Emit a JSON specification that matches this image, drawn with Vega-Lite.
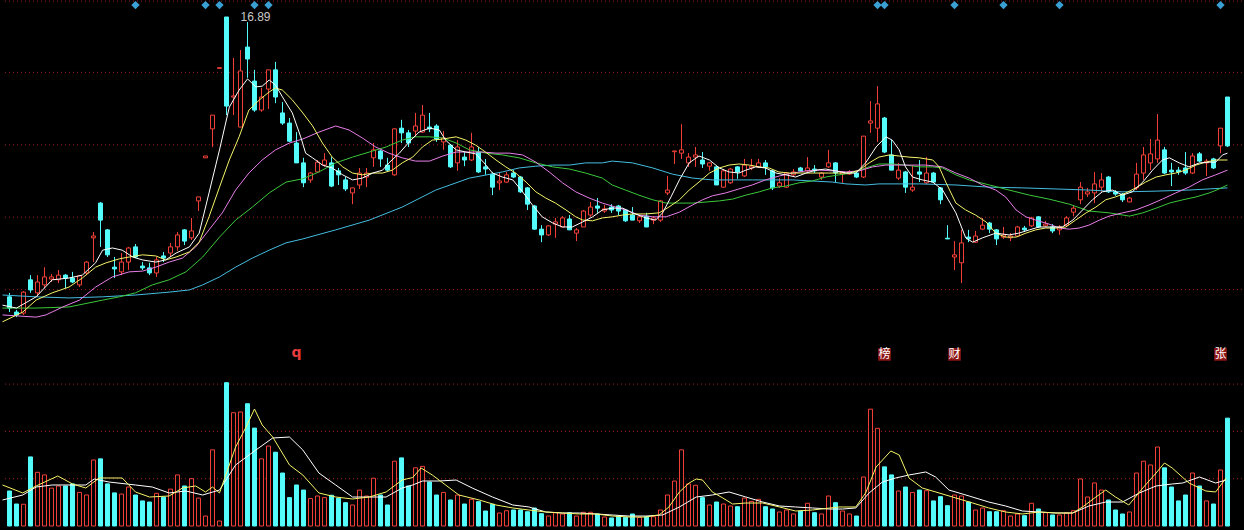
{
"$schema": "https://vega.github.io/schema/vega-lite/v6.json",
"background": "#000000",
"padding": 0,
"spacing": 0,
"config": {"view": {"stroke": null}, "axis": {"disable": true}, "legend": {"disable": true}, "scale": {"continuousPadding": 0}},
"datasets": {
"bars": [
{"k":0,"o":9.16,"h":9.27,"l":8.74,"c":8.85,"v":7.4},
{"k":1,"o":8.74,"h":8.80,"l":8.60,"c":8.66,"v":4.65},
{"k":2,"o":8.71,"h":9.32,"l":8.66,"c":9.29,"v":4.6},
{"k":3,"o":9.63,"h":9.76,"l":9.27,"c":9.35,"v":14.6},
{"k":4,"o":9.27,"h":9.76,"l":9.16,"c":9.57,"v":11.35},
{"k":5,"o":9.49,"h":9.98,"l":9.40,"c":9.71,"v":10.8},
{"k":6,"o":9.65,"h":9.79,"l":9.57,"c":9.71,"v":8.0},
{"k":7,"o":9.63,"h":9.90,"l":9.54,"c":9.76,"v":8.46},
{"k":8,"o":9.76,"h":9.79,"l":9.40,"c":9.68,"v":8.46},
{"k":9,"o":9.68,"h":9.85,"l":9.54,"c":9.57,"v":8.9},
{"k":10,"o":9.49,"h":9.76,"l":9.43,"c":9.74,"v":7.1},
{"k":11,"o":9.82,"h":10.15,"l":9.76,"c":10.12,"v":6.55},
{"k":12,"o":10.79,"h":10.95,"l":10.12,"c":10.84,"v":13.95},
{"k":13,"o":11.75,"h":11.78,"l":10.54,"c":11.28,"v":14.2},
{"k":14,"o":11.01,"h":11.03,"l":10.26,"c":10.32,"v":8.9},
{"k":15,"o":9.98,"h":10.26,"l":9.68,"c":9.93,"v":7.0},
{"k":16,"o":9.85,"h":10.37,"l":9.76,"c":10.12,"v":6.76},
{"k":17,"o":10.12,"h":10.54,"l":9.90,"c":10.51,"v":8.24},
{"k":18,"o":10.54,"h":10.62,"l":10.23,"c":10.26,"v":6.55},
{"k":19,"o":10.01,"h":10.12,"l":9.90,"c":9.96,"v":5.3},
{"k":20,"o":9.96,"h":10.10,"l":9.76,"c":9.82,"v":5.07},
{"k":21,"o":9.82,"h":10.26,"l":9.71,"c":10.18,"v":6.9},
{"k":22,"o":10.29,"h":10.40,"l":10.12,"c":10.23,"v":6.1},
{"k":23,"o":10.37,"h":10.65,"l":10.26,"c":10.54,"v":7.8},
{"k":24,"o":10.54,"h":10.95,"l":10.43,"c":10.87,"v":10.8},
{"k":25,"o":11.01,"h":11.03,"l":10.59,"c":10.70,"v":8.46},
{"k":26,"o":10.79,"h":11.34,"l":10.73,"c":10.98,"v":10.0},
{"k":27,"o":11.81,"h":11.92,"l":11.53,"c":11.92,"v":5.9},
{"k":28,"o":13.00,"h":13.05,"l":13.00,"c":13.05,"v":2.1},
{"k":29,"o":13.80,"h":14.18,"l":13.30,"c":14.18,"v":16.1},
{"k":30,"o":15.47,"h":15.49,"l":15.47,"c":15.49,"v":1.06},
{"k":31,"o":16.89,"h":16.89,"l":14.18,"c":14.43,"v":30.3},
{"k":32,"o":14.68,"h":15.76,"l":14.18,"c":14.71,"v":23.95},
{"k":33,"o":13.85,"h":15.98,"l":13.85,"c":15.40,"v":24.1},
{"k":34,"o":16.06,"h":16.75,"l":15.21,"c":15.73,"v":25.85},
{"k":35,"o":15.12,"h":15.43,"l":14.27,"c":14.32,"v":20.7},
{"k":36,"o":14.32,"h":14.93,"l":14.27,"c":14.68,"v":14.2},
{"k":37,"o":14.90,"h":15.43,"l":14.35,"c":15.43,"v":16.9},
{"k":38,"o":15.43,"h":15.65,"l":14.51,"c":14.68,"v":15.6},
{"k":39,"o":14.24,"h":14.54,"l":13.91,"c":13.96,"v":11.2},
{"k":40,"o":13.96,"h":14.10,"l":13.44,"c":13.46,"v":6.0},
{"k":41,"o":13.41,"h":13.71,"l":12.86,"c":12.86,"v":8.67},
{"k":42,"o":12.86,"h":13.00,"l":12.19,"c":12.31,"v":7.6},
{"k":43,"o":12.39,"h":12.61,"l":12.31,"c":12.58,"v":5.8},
{"k":44,"o":12.61,"h":12.94,"l":12.58,"c":12.88,"v":6.34},
{"k":45,"o":12.80,"h":13.13,"l":12.75,"c":12.94,"v":6.0},
{"k":46,"o":12.86,"h":13.02,"l":12.19,"c":12.22,"v":6.5},
{"k":47,"o":12.64,"h":12.72,"l":12.25,"c":12.53,"v":5.86},
{"k":48,"o":12.39,"h":12.47,"l":12.08,"c":12.14,"v":4.93},
{"k":49,"o":12.03,"h":12.17,"l":11.72,"c":12.17,"v":4.44},
{"k":50,"o":12.25,"h":12.72,"l":12.14,"c":12.58,"v":7.6},
{"k":51,"o":12.47,"h":12.72,"l":12.19,"c":12.58,"v":6.34},
{"k":52,"o":13.00,"h":13.41,"l":12.75,"c":13.22,"v":10.1},
{"k":53,"o":13.19,"h":13.22,"l":12.75,"c":12.97,"v":6.55},
{"k":54,"o":12.80,"h":13.00,"l":12.61,"c":12.66,"v":4.44},
{"k":55,"o":12.53,"h":13.82,"l":12.50,"c":13.80,"v":13.7},
{"k":56,"o":13.82,"h":14.05,"l":13.41,"c":13.69,"v":14.4},
{"k":57,"o":13.69,"h":13.77,"l":13.30,"c":13.41,"v":8.46},
{"k":58,"o":13.74,"h":14.24,"l":13.58,"c":13.88,"v":12.3},
{"k":59,"o":13.71,"h":14.46,"l":13.69,"c":14.18,"v":12.6},
{"k":60,"o":13.85,"h":14.24,"l":13.71,"c":13.80,"v":9.3},
{"k":61,"o":13.88,"h":13.93,"l":13.44,"c":13.52,"v":6.55},
{"k":62,"o":13.44,"h":13.74,"l":13.22,"c":13.55,"v":7.1},
{"k":63,"o":13.35,"h":13.38,"l":12.72,"c":12.75,"v":5.5},
{"k":64,"o":12.86,"h":13.49,"l":12.64,"c":13.30,"v":6.55},
{"k":65,"o":13.02,"h":13.16,"l":12.77,"c":12.94,"v":4.65},
{"k":66,"o":12.94,"h":13.69,"l":12.91,"c":13.30,"v":5.64},
{"k":67,"o":13.16,"h":13.30,"l":12.58,"c":12.61,"v":5.14},
{"k":68,"o":12.75,"h":12.97,"l":12.53,"c":12.69,"v":3.17},
{"k":69,"o":12.55,"h":12.61,"l":11.97,"c":12.19,"v":4.59},
{"k":70,"o":12.31,"h":12.58,"l":12.11,"c":12.36,"v":2.75},
{"k":71,"o":12.33,"h":12.61,"l":12.31,"c":12.53,"v":3.23},
{"k":72,"o":12.58,"h":12.66,"l":12.44,"c":12.47,"v":3.38},
{"k":73,"o":12.47,"h":12.50,"l":12.03,"c":12.06,"v":3.38},
{"k":74,"o":12.17,"h":12.19,"l":11.56,"c":11.72,"v":3.02},
{"k":75,"o":11.67,"h":11.70,"l":11.01,"c":11.03,"v":3.8},
{"k":76,"o":11.03,"h":11.14,"l":10.67,"c":10.87,"v":2.6},
{"k":77,"o":10.87,"h":11.14,"l":10.84,"c":11.12,"v":2.11},
{"k":78,"o":11.17,"h":11.34,"l":10.79,"c":11.23,"v":2.81},
{"k":79,"o":11.09,"h":11.39,"l":11.09,"c":11.34,"v":2.54},
{"k":80,"o":11.31,"h":11.42,"l":11.01,"c":11.01,"v":2.81},
{"k":81,"o":10.92,"h":11.06,"l":10.70,"c":11.01,"v":2.11},
{"k":82,"o":11.09,"h":11.56,"l":11.09,"c":11.53,"v":2.9},
{"k":83,"o":11.42,"h":11.78,"l":11.37,"c":11.64,"v":2.9},
{"k":84,"o":11.67,"h":11.89,"l":11.48,"c":11.61,"v":2.54},
{"k":85,"o":11.53,"h":11.70,"l":11.48,"c":11.59,"v":1.9},
{"k":86,"o":11.64,"h":11.72,"l":11.48,"c":11.56,"v":1.7},
{"k":87,"o":11.67,"h":11.70,"l":11.42,"c":11.53,"v":2.11},
{"k":88,"o":11.56,"h":11.59,"l":11.23,"c":11.26,"v":1.83},
{"k":89,"o":11.42,"h":11.64,"l":11.28,"c":11.28,"v":2.54},
{"k":90,"o":11.26,"h":11.42,"l":11.20,"c":11.37,"v":1.83},
{"k":91,"o":11.39,"h":11.48,"l":11.09,"c":11.09,"v":1.97},
{"k":92,"o":11.28,"h":11.39,"l":11.17,"c":11.34,"v":1.97},
{"k":93,"o":11.28,"h":11.84,"l":11.23,"c":11.81,"v":3.38},
{"k":94,"o":12.03,"h":12.50,"l":11.97,"c":12.11,"v":6.55},
{"k":95,"o":13.17,"h":13.19,"l":12.83,"c":13.19,"v":9.5},
{"k":96,"o":13.13,"h":13.93,"l":12.97,"c":13.22,"v":16.1},
{"k":97,"o":12.86,"h":13.13,"l":12.75,"c":13.02,"v":8.9},
{"k":98,"o":13.02,"h":13.30,"l":12.75,"c":13.08,"v":8.6},
{"k":99,"o":12.94,"h":13.16,"l":12.72,"c":12.83,"v":6.0},
{"k":100,"o":12.77,"h":12.88,"l":12.64,"c":12.86,"v":4.44},
{"k":101,"o":12.75,"h":12.77,"l":12.25,"c":12.25,"v":5.07},
{"k":102,"o":12.19,"h":12.69,"l":12.17,"c":12.64,"v":4.65},
{"k":103,"o":12.31,"h":12.72,"l":12.28,"c":12.69,"v":4.23},
{"k":104,"o":12.75,"h":12.77,"l":12.42,"c":12.61,"v":4.08},
{"k":105,"o":12.50,"h":12.97,"l":12.47,"c":12.80,"v":5.9},
{"k":106,"o":12.72,"h":12.97,"l":12.66,"c":12.77,"v":5.2},
{"k":107,"o":12.75,"h":12.97,"l":12.72,"c":12.86,"v":5.64},
{"k":108,"o":12.86,"h":12.94,"l":12.53,"c":12.75,"v":4.08},
{"k":109,"o":12.64,"h":12.66,"l":12.11,"c":12.17,"v":3.6},
{"k":110,"o":12.22,"h":12.44,"l":12.17,"c":12.31,"v":2.96},
{"k":111,"o":12.19,"h":12.61,"l":12.17,"c":12.58,"v":3.38},
{"k":112,"o":12.53,"h":12.69,"l":12.50,"c":12.61,"v":2.54},
{"k":113,"o":12.72,"h":12.75,"l":12.61,"c":12.64,"v":3.17},
{"k":114,"o":12.64,"h":13.02,"l":12.61,"c":12.72,"v":4.8},
{"k":115,"o":12.69,"h":12.80,"l":12.58,"c":12.64,"v":2.81},
{"k":116,"o":12.47,"h":12.61,"l":12.39,"c":12.58,"v":2.54},
{"k":117,"o":12.75,"h":13.22,"l":12.72,"c":12.86,"v":6.34},
{"k":118,"o":12.86,"h":12.88,"l":12.33,"c":12.58,"v":4.93},
{"k":119,"o":12.55,"h":12.61,"l":12.31,"c":12.61,"v":3.17},
{"k":120,"o":12.55,"h":12.66,"l":12.53,"c":12.61,"v":2.54},
{"k":121,"o":12.58,"h":12.61,"l":12.44,"c":12.47,"v":2.11},
{"k":122,"o":12.47,"h":13.60,"l":12.44,"c":13.60,"v":10.36},
{"k":123,"o":13.96,"h":14.57,"l":13.69,"c":14.02,"v":24.7},
{"k":124,"o":13.82,"h":14.98,"l":13.44,"c":14.49,"v":20.65},
{"k":125,"o":14.10,"h":14.13,"l":13.13,"c":13.16,"v":12.5},
{"k":126,"o":13.08,"h":13.49,"l":12.66,"c":12.66,"v":10.8},
{"k":127,"o":12.44,"h":12.86,"l":12.39,"c":12.66,"v":7.4},
{"k":128,"o":12.61,"h":12.64,"l":12.03,"c":12.19,"v":8.24},
{"k":129,"o":12.11,"h":12.80,"l":12.06,"c":12.19,"v":7.1},
{"k":130,"o":12.61,"h":12.94,"l":12.33,"c":12.55,"v":7.6},
{"k":131,"o":12.31,"h":13.02,"l":12.28,"c":12.58,"v":7.46},
{"k":132,"o":12.58,"h":12.61,"l":12.31,"c":12.33,"v":5.3},
{"k":133,"o":12.17,"h":12.19,"l":11.72,"c":11.84,"v":6.2},
{"k":134,"o":10.78,"h":11.14,"l":10.76,"c":10.76,"v":4.3},
{"k":135,"o":10.26,"h":10.70,"l":9.90,"c":10.32,"v":6.55},
{"k":136,"o":10.10,"h":11.01,"l":9.54,"c":10.65,"v":6.34},
{"k":137,"o":10.81,"h":11.01,"l":10.67,"c":10.76,"v":5.07},
{"k":138,"o":10.67,"h":10.98,"l":10.65,"c":10.84,"v":3.38},
{"k":139,"o":11.03,"h":11.34,"l":11.01,"c":11.14,"v":3.8},
{"k":140,"o":11.20,"h":11.23,"l":10.92,"c":11.03,"v":3.02},
{"k":141,"o":11.01,"h":11.03,"l":10.59,"c":10.76,"v":3.02},
{"k":142,"o":10.81,"h":11.09,"l":10.76,"c":10.87,"v":3.23},
{"k":143,"o":10.79,"h":10.92,"l":10.70,"c":10.84,"v":2.11},
{"k":144,"o":10.84,"h":11.12,"l":10.81,"c":11.09,"v":2.54},
{"k":145,"o":11.06,"h":11.12,"l":10.95,"c":11.01,"v":2.18},
{"k":146,"o":11.12,"h":11.37,"l":11.09,"c":11.34,"v":4.8},
{"k":147,"o":11.37,"h":11.39,"l":11.06,"c":11.09,"v":3.6},
{"k":148,"o":11.12,"h":11.26,"l":11.09,"c":11.17,"v":2.81},
{"k":149,"o":11.09,"h":11.17,"l":10.92,"c":10.98,"v":2.33},
{"k":150,"o":11.01,"h":11.14,"l":10.87,"c":11.09,"v":2.33},
{"k":151,"o":11.14,"h":11.39,"l":11.12,"c":11.34,"v":2.75},
{"k":152,"o":11.50,"h":11.67,"l":11.39,"c":11.61,"v":3.23},
{"k":153,"o":11.84,"h":12.33,"l":11.72,"c":12.19,"v":9.94},
{"k":154,"o":12.00,"h":12.17,"l":11.92,"c":12.06,"v":6.13},
{"k":155,"o":12.03,"h":12.61,"l":11.75,"c":12.28,"v":9.1},
{"k":156,"o":12.19,"h":12.58,"l":12.06,"c":12.39,"v":7.6},
{"k":157,"o":12.47,"h":12.50,"l":12.03,"c":12.06,"v":5.5},
{"k":158,"o":12.06,"h":12.11,"l":11.95,"c":12.00,"v":3.38},
{"k":159,"o":12.00,"h":12.03,"l":11.78,"c":11.84,"v":2.54},
{"k":160,"o":11.78,"h":11.92,"l":11.78,"c":11.89,"v":2.96},
{"k":161,"o":12.17,"h":12.86,"l":12.11,"c":12.55,"v":11.2},
{"k":162,"o":12.58,"h":13.30,"l":12.39,"c":13.08,"v":13.7},
{"k":163,"o":12.86,"h":13.52,"l":12.66,"c":13.11,"v":12.9},
{"k":164,"o":12.97,"h":14.21,"l":12.86,"c":13.49,"v":16.7},
{"k":165,"o":13.22,"h":13.30,"l":12.55,"c":12.58,"v":12.3},
{"k":166,"o":12.66,"h":12.86,"l":12.22,"c":12.61,"v":8.24},
{"k":167,"o":12.66,"h":12.75,"l":12.53,"c":12.61,"v":5.3},
{"k":168,"o":12.72,"h":13.16,"l":12.53,"c":12.58,"v":6.55},
{"k":169,"o":12.58,"h":13.13,"l":12.55,"c":13.05,"v":11.2},
{"k":170,"o":13.11,"h":13.16,"l":12.88,"c":12.91,"v":8.46},
{"k":171,"o":12.86,"h":12.97,"l":12.50,"c":12.91,"v":5.3},
{"k":172,"o":12.97,"h":13.00,"l":12.69,"c":12.72,"v":4.65},
{"k":173,"o":13.33,"h":13.82,"l":13.13,"c":13.82,"v":11.84},
{"k":174,"o":14.68,"h":14.68,"l":13.30,"c":13.33,"v":22.8}
],
"ma5": [
{"k":-1,"y":8.93},{"k":1,"y":8.85},{"k":3.8,"y":9.16},{"k":6.1,"y":9.63},{"k":8.5,"y":9.68},{"k":10.4,"y":9.76},{"k":12.3,"y":10.10},{"k":13.3,"y":10.45},{"k":14.7,"y":10.51},{"k":16.1,"y":10.45},{"k":17.6,"y":10.26},{"k":19,"y":10.18},{"k":20.9,"y":10.12},{"k":22.3,"y":10.18},{"k":23.8,"y":10.37},{"k":25.7,"y":10.54},{"k":27.1,"y":10.92},{"k":28.5,"y":12.03},{"k":30,"y":13.22},{"k":31.4,"y":14.40},{"k":32.8,"y":14.87},{"k":34,"y":15.18},{"k":35.2,"y":14.96},{"k":36.1,"y":14.98},{"k":37.1,"y":15.15},{"k":38,"y":15.01},{"k":39,"y":14.68},{"k":40.4,"y":14.24},{"k":41.6,"y":13.58},{"k":42.3,"y":13.13},{"k":43.3,"y":13.00},{"k":44.7,"y":12.80},{"k":46.1,"y":12.72},{"k":47.6,"y":12.53},{"k":49,"y":12.39},{"k":50.4,"y":12.44},{"k":51.9,"y":12.58},{"k":53.3,"y":12.66},{"k":54.2,"y":12.86},{"k":55.7,"y":13.13},{"k":57.1,"y":13.44},{"k":58.5,"y":13.71},{"k":60,"y":13.82},{"k":61.4,"y":13.77},{"k":62.3,"y":13.49},{"k":63.8,"y":13.22},{"k":65.2,"y":13.16},{"k":66.6,"y":13.11},{"k":67.8,"y":12.86},{"k":69,"y":12.58},{"k":70.4,"y":12.47},{"k":71.9,"y":12.39},{"k":73.3,"y":12.06},{"k":74.7,"y":11.70},{"k":76.1,"y":11.37},{"k":77.6,"y":11.20},{"k":79,"y":11.09},{"k":80.4,"y":11.09},{"k":81.9,"y":11.23},{"k":83.3,"y":11.37},{"k":84.7,"y":11.56},{"k":86.1,"y":11.61},{"k":87.6,"y":11.61},{"k":89,"y":11.48},{"k":90.9,"y":11.34},{"k":92.3,"y":11.28},{"k":93.3,"y":11.48},{"k":94.5,"y":11.92},{"k":95.7,"y":12.39},{"k":97.1,"y":12.86},{"k":98.5,"y":13.05},{"k":100,"y":12.94},{"k":101.4,"y":12.72},{"k":102.8,"y":12.61},{"k":104.2,"y":12.58},{"k":105.2,"y":12.66},{"k":106.6,"y":12.75},{"k":108,"y":12.72},{"k":109.5,"y":12.58},{"k":110.9,"y":12.53},{"k":112.3,"y":12.47},{"k":113.8,"y":12.58},{"k":115.2,"y":12.66},{"k":116.6,"y":12.69},{"k":118,"y":12.64},{"k":119.5,"y":12.58},{"k":120.9,"y":12.58},{"k":122.3,"y":12.86},{"k":123.8,"y":13.30},{"k":125.2,"y":13.58},{"k":126.1,"y":13.49},{"k":127.1,"y":13.22},{"k":128,"y":12.75},{"k":129,"y":12.47},{"k":130.4,"y":12.39},{"k":131.9,"y":12.33},{"k":133.3,"y":12.11},{"k":135.2,"y":11.48},{"k":136.6,"y":10.79},{"k":137.6,"y":10.67},{"k":139,"y":10.79},{"k":140.9,"y":10.92},{"k":142.8,"y":10.87},{"k":144.2,"y":10.92},{"k":145.7,"y":11.01},{"k":147.1,"y":11.09},{"k":148.5,"y":11.09},{"k":150.4,"y":11.09},{"k":151.9,"y":11.28},{"k":153.3,"y":11.56},{"k":154.7,"y":11.84},{"k":156.1,"y":12.06},{"k":157.6,"y":12.11},{"k":159,"y":11.97},{"k":160.4,"y":12.06},{"k":161.9,"y":12.33},{"k":163.3,"y":12.66},{"k":164.7,"y":12.94},{"k":165.7,"y":13.00},{"k":167.1,"y":12.86},{"k":168.5,"y":12.75},{"k":170,"y":12.86},{"k":171.4,"y":12.88},{"k":172.3,"y":12.88},{"k":173.3,"y":13.08},{"k":174,"y":13.13}
],
"ma10": [
{"k":-1,"y":8.47},{"k":1.9,"y":8.74},{"k":3.8,"y":9.07},{"k":6.1,"y":9.27},{"k":8.5,"y":9.43},{"k":10.4,"y":9.68},{"k":12.3,"y":9.98},{"k":13.8,"y":10.10},{"k":15.7,"y":10.21},{"k":17.1,"y":10.26},{"k":19,"y":10.32},{"k":20.9,"y":10.29},{"k":22.3,"y":10.18},{"k":23.8,"y":10.26},{"k":25.7,"y":10.40},{"k":27.1,"y":10.67},{"k":28.5,"y":11.37},{"k":30,"y":12.19},{"k":31.4,"y":12.94},{"k":32.8,"y":13.58},{"k":34.2,"y":14.32},{"k":35.7,"y":14.60},{"k":37.1,"y":14.82},{"k":38,"y":14.93},{"k":39,"y":14.87},{"k":40.4,"y":14.60},{"k":41.9,"y":14.24},{"k":43.3,"y":13.88},{"k":44.7,"y":13.41},{"k":46.1,"y":13.02},{"k":47.6,"y":12.75},{"k":49,"y":12.58},{"k":50.4,"y":12.53},{"k":51.9,"y":12.58},{"k":53.3,"y":12.58},{"k":54.7,"y":12.66},{"k":56.1,"y":12.86},{"k":57.6,"y":13.02},{"k":59,"y":13.30},{"k":60.4,"y":13.49},{"k":61.9,"y":13.52},{"k":63.8,"y":13.58},{"k":65.2,"y":13.49},{"k":66.6,"y":13.35},{"k":68,"y":13.16},{"k":69.5,"y":12.94},{"k":70.9,"y":12.75},{"k":72.3,"y":12.58},{"k":73.8,"y":12.33},{"k":75.2,"y":12.06},{"k":76.6,"y":11.89},{"k":78,"y":11.75},{"k":79.5,"y":11.56},{"k":80.9,"y":11.37},{"k":81.9,"y":11.28},{"k":83.3,"y":11.26},{"k":84.7,"y":11.34},{"k":86.1,"y":11.37},{"k":87.6,"y":11.42},{"k":89,"y":11.45},{"k":90.9,"y":11.45},{"k":92.8,"y":11.48},{"k":94.2,"y":11.64},{"k":95.7,"y":11.84},{"k":97.1,"y":12.11},{"k":98.5,"y":12.33},{"k":100,"y":12.58},{"k":101.4,"y":12.72},{"k":102.8,"y":12.80},{"k":104.2,"y":12.83},{"k":105.7,"y":12.80},{"k":107.1,"y":12.75},{"k":108.5,"y":12.72},{"k":109.9,"y":12.61},{"k":111.4,"y":12.58},{"k":113,"y":12.58},{"k":115,"y":12.58},{"k":117,"y":12.58},{"k":119,"y":12.58},{"k":120,"y":12.58},{"k":121.4,"y":12.66},{"k":122.8,"y":12.86},{"k":124.2,"y":13.02},{"k":125.7,"y":13.08},{"k":127.1,"y":13.05},{"k":128.5,"y":13.02},{"k":130,"y":13.00},{"k":131.9,"y":12.94},{"k":132.8,"y":12.75},{"k":133.8,"y":12.31},{"k":135.2,"y":11.75},{"k":136.6,"y":11.56},{"k":138,"y":11.42},{"k":139.5,"y":11.23},{"k":140.9,"y":10.92},{"k":142.3,"y":10.81},{"k":143.8,"y":10.81},{"k":145.2,"y":10.92},{"k":146.6,"y":11.01},{"k":148,"y":11.06},{"k":149.5,"y":11.06},{"k":150.9,"y":11.09},{"k":152.3,"y":11.28},{"k":153.8,"y":11.48},{"k":155.2,"y":11.64},{"k":156.6,"y":11.84},{"k":158,"y":11.92},{"k":159.5,"y":12.03},{"k":160.9,"y":12.17},{"k":162.3,"y":12.33},{"k":163.8,"y":12.47},{"k":165.2,"y":12.53},{"k":166.6,"y":12.58},{"k":168,"y":12.66},{"k":169.5,"y":12.80},{"k":170.9,"y":12.88},{"k":172.3,"y":12.94},{"k":174,"y":12.94}
],
"ma20": [
{"k":-1,"y":8.66},{"k":3.8,"y":8.60},{"k":5.2,"y":8.66},{"k":7.6,"y":8.88},{"k":10,"y":9.07},{"k":12.3,"y":9.43},{"k":14.7,"y":9.71},{"k":17.1,"y":9.85},{"k":19,"y":9.87},{"k":20.9,"y":9.98},{"k":22.8,"y":10.12},{"k":24.7,"y":10.23},{"k":26.6,"y":10.54},{"k":28.5,"y":11.01},{"k":30.4,"y":11.48},{"k":32.3,"y":12.11},{"k":34.2,"y":12.58},{"k":36.1,"y":12.94},{"k":38,"y":13.22},{"k":40,"y":13.41},{"k":41.9,"y":13.52},{"k":44.2,"y":13.71},{"k":46.6,"y":13.88},{"k":48.5,"y":13.77},{"k":50.4,"y":13.55},{"k":52.3,"y":13.30},{"k":54.2,"y":13.13},{"k":56.1,"y":13.00},{"k":58,"y":12.91},{"k":60,"y":12.91},{"k":61.9,"y":13.05},{"k":63.8,"y":13.16},{"k":65.7,"y":13.16},{"k":67.6,"y":13.16},{"k":69.5,"y":13.13},{"k":71.4,"y":13.13},{"k":73.3,"y":13.08},{"k":75.2,"y":12.88},{"k":77.1,"y":12.61},{"k":79,"y":12.31},{"k":80.9,"y":12.06},{"k":82.8,"y":11.89},{"k":84.7,"y":11.75},{"k":86.6,"y":11.64},{"k":88,"y":11.56},{"k":89.9,"y":11.42},{"k":91.9,"y":11.37},{"k":93.8,"y":11.37},{"k":95.7,"y":11.50},{"k":97.6,"y":11.70},{"k":99,"y":11.84},{"k":100.4,"y":11.95},{"k":102.3,"y":12.03},{"k":104.2,"y":12.14},{"k":106.1,"y":12.25},{"k":108,"y":12.39},{"k":110,"y":12.50},{"k":111.9,"y":12.58},{"k":113.8,"y":12.64},{"k":115.7,"y":12.66},{"k":117.6,"y":12.64},{"k":119.5,"y":12.61},{"k":121.4,"y":12.64},{"k":123.3,"y":12.75},{"k":125.2,"y":12.80},{"k":127.1,"y":12.80},{"k":129,"y":12.80},{"k":130.9,"y":12.80},{"k":133.3,"y":12.75},{"k":135.2,"y":12.58},{"k":137.1,"y":12.44},{"k":139,"y":12.25},{"k":140.9,"y":12.11},{"k":142.3,"y":11.92},{"k":143.8,"y":11.56},{"k":145.2,"y":11.37},{"k":146.6,"y":11.28},{"k":148.5,"y":11.17},{"k":150,"y":11.06},{"k":151.4,"y":11.03},{"k":152.8,"y":11.06},{"k":154.2,"y":11.14},{"k":155.7,"y":11.28},{"k":157.1,"y":11.39},{"k":159,"y":11.48},{"k":160.9,"y":11.56},{"k":162.8,"y":11.70},{"k":164.7,"y":11.86},{"k":166.6,"y":12.03},{"k":168.5,"y":12.19},{"k":170.4,"y":12.39},{"k":172.3,"y":12.53},{"k":174,"y":12.66}
],
"ma30": [
{"k":-1,"y":8.85},{"k":3.8,"y":8.85},{"k":8.5,"y":8.88},{"k":13.3,"y":9.07},{"k":15.7,"y":9.16},{"k":18,"y":9.27},{"k":20.4,"y":9.49},{"k":22.8,"y":9.63},{"k":25.2,"y":9.85},{"k":27.6,"y":10.26},{"k":30,"y":10.81},{"k":32.3,"y":11.28},{"k":34.7,"y":11.64},{"k":37.1,"y":12.03},{"k":39.5,"y":12.33},{"k":41.9,"y":12.42},{"k":44.2,"y":12.61},{"k":46.6,"y":12.86},{"k":49,"y":13.02},{"k":51.4,"y":13.16},{"k":53.8,"y":13.30},{"k":56.1,"y":13.49},{"k":58,"y":13.58},{"k":60,"y":13.58},{"k":61.9,"y":13.55},{"k":63.8,"y":13.41},{"k":65.7,"y":13.22},{"k":68.1,"y":13.13},{"k":70.4,"y":13.08},{"k":72.8,"y":13.00},{"k":75.2,"y":12.86},{"k":77.6,"y":12.75},{"k":80,"y":12.69},{"k":82.3,"y":12.58},{"k":84.7,"y":12.44},{"k":86.1,"y":12.25},{"k":88,"y":12.11},{"k":89.9,"y":11.97},{"k":91.9,"y":11.84},{"k":93.8,"y":11.75},{"k":95.7,"y":11.75},{"k":97.6,"y":11.75},{"k":99.5,"y":11.78},{"k":101.4,"y":11.81},{"k":103.3,"y":11.86},{"k":105.2,"y":11.97},{"k":107.1,"y":12.06},{"k":109,"y":12.17},{"k":110.9,"y":12.22},{"k":112.8,"y":12.31},{"k":114.7,"y":12.36},{"k":116.6,"y":12.47},{"k":118.5,"y":12.53},{"k":120.4,"y":12.58},{"k":122.3,"y":12.72},{"k":124.2,"y":12.83},{"k":126.1,"y":12.83},{"k":128,"y":12.80},{"k":130,"y":12.75},{"k":131.9,"y":12.75},{"k":133.3,"y":12.72},{"k":135.2,"y":12.53},{"k":137.1,"y":12.39},{"k":140,"y":12.25},{"k":142.8,"y":12.11},{"k":145.7,"y":11.97},{"k":148.5,"y":11.86},{"k":151.4,"y":11.72},{"k":154.2,"y":11.53},{"k":157.1,"y":11.48},{"k":160,"y":11.39},{"k":161.9,"y":11.48},{"k":163.8,"y":11.61},{"k":165.7,"y":11.75},{"k":167.6,"y":11.84},{"k":169.5,"y":11.92},{"k":171.4,"y":12.03},{"k":172.8,"y":12.14},{"k":174,"y":12.25}
],
"ma60": [
{"k":-1,"y":9.21},{"k":3.8,"y":9.16},{"k":8.5,"y":9.13},{"k":13.3,"y":9.16},{"k":18,"y":9.21},{"k":22.8,"y":9.29},{"k":25.7,"y":9.35},{"k":27.6,"y":9.49},{"k":30,"y":9.71},{"k":32.3,"y":9.98},{"k":34.7,"y":10.23},{"k":37.1,"y":10.45},{"k":39.5,"y":10.65},{"k":41.9,"y":10.76},{"k":46.6,"y":11.01},{"k":51.4,"y":11.28},{"k":56.1,"y":11.64},{"k":60.9,"y":12.11},{"k":65.7,"y":12.44},{"k":70.4,"y":12.61},{"k":72.8,"y":12.72},{"k":75.2,"y":12.77},{"k":77.6,"y":12.80},{"k":80,"y":12.80},{"k":82.3,"y":12.86},{"k":84.7,"y":12.86},{"k":86.1,"y":12.91},{"k":89,"y":12.86},{"k":91.9,"y":12.72},{"k":94.7,"y":12.55},{"k":97.6,"y":12.44},{"k":100.4,"y":12.39},{"k":103.3,"y":12.39},{"k":106.1,"y":12.39},{"k":109,"y":12.39},{"k":111.9,"y":12.39},{"k":114.7,"y":12.36},{"k":117.6,"y":12.33},{"k":119.5,"y":12.28},{"k":122.3,"y":12.25},{"k":124.2,"y":12.28},{"k":127.1,"y":12.28},{"k":130,"y":12.28},{"k":135.2,"y":12.25},{"k":139.9,"y":12.19},{"k":144.7,"y":12.17},{"k":149.5,"y":12.14},{"k":154.2,"y":12.11},{"k":159,"y":12.06},{"k":163.8,"y":12.08},{"k":168.5,"y":12.11},{"k":174,"y":12.17}
],
"vma5": [
{"k":-1,"y":8.67},{"k":1.9,"y":6.98},{"k":3.8,"y":8.46},{"k":6.9,"y":10.57},{"k":9,"y":8.88},{"k":10.9,"y":8.03},{"k":12.8,"y":10.15},{"k":16.1,"y":10.15},{"k":18,"y":7.19},{"k":20,"y":6.13},{"k":22.8,"y":6.34},{"k":24.7,"y":8.03},{"k":26.6,"y":8.46},{"k":28,"y":7.19},{"k":29,"y":8.24},{"k":30,"y":6.98},{"k":32.3,"y":16.7},{"k":33.8,"y":20.93},{"k":35,"y":24.73},{"k":36.1,"y":21.35},{"k":37.6,"y":18.81},{"k":40,"y":12.9},{"k":41.9,"y":10.78},{"k":44.2,"y":6.98},{"k":46.6,"y":6.13},{"k":49,"y":5.71},{"k":51.4,"y":6.13},{"k":53.8,"y":7.19},{"k":56.1,"y":9.72},{"k":57.6,"y":10.25},{"k":58.8,"y":12.26},{"k":60.4,"y":10.78},{"k":62.3,"y":8.67},{"k":64.2,"y":6.55},{"k":67.1,"y":5.50},{"k":69.5,"y":4.44},{"k":71.9,"y":3.81},{"k":74.2,"y":3.38},{"k":76.6,"y":2.96},{"k":79,"y":2.75},{"k":81.4,"y":2.54},{"k":83.8,"y":2.54},{"k":86.1,"y":2.11},{"k":88.5,"y":1.90},{"k":90.9,"y":1.90},{"k":92.8,"y":2.33},{"k":94.2,"y":4.02},{"k":95.7,"y":7.19},{"k":97.1,"y":9.09},{"k":98.1,"y":9.94},{"k":99,"y":9.72},{"k":100.4,"y":7.19},{"k":101.9,"y":5.92},{"k":103.3,"y":4.65},{"k":105.2,"y":4.86},{"k":107.6,"y":4.86},{"k":110,"y":4.02},{"k":112.3,"y":3.17},{"k":114.7,"y":3.38},{"k":116.6,"y":3.7},{"k":118.5,"y":4.02},{"k":120.9,"y":4.02},{"k":122.3,"y":6.98},{"k":123.8,"y":12.47},{"k":125.9,"y":15.86},{"k":127.1,"y":15.01},{"k":128.5,"y":10.15},{"k":130.4,"y":8.03},{"k":132.8,"y":6.98},{"k":135.2,"y":5.92},{"k":137.6,"y":4.86},{"k":139.9,"y":3.81},{"k":142.3,"y":2.96},{"k":144.7,"y":2.54},{"k":147.1,"y":2.96},{"k":149.5,"y":2.75},{"k":151.9,"y":2.75},{"k":153.3,"y":4.02},{"k":155.2,"y":6.13},{"k":156.6,"y":7.61},{"k":158,"y":6.13},{"k":159.9,"y":4.44},{"k":161.9,"y":8.03},{"k":163.8,"y":11.2},{"k":165,"y":13.32},{"k":166.1,"y":12.26},{"k":168.5,"y":9.09},{"k":170.9,"y":7.40},{"k":172.3,"y":7.19},{"k":173.8,"y":10.15}
],
"vma10": [
{"k":-1,"y":5.50},{"k":1.9,"y":6.55},{"k":3.8,"y":8.24},{"k":6.1,"y":8.67},{"k":8.5,"y":8.67},{"k":10.9,"y":8.67},{"k":12.1,"y":9.94},{"k":14.2,"y":9.30},{"k":18,"y":8.67},{"k":20.4,"y":8.24},{"k":22.8,"y":6.98},{"k":25.2,"y":7.40},{"k":27.6,"y":6.55},{"k":30,"y":7.61},{"k":32.3,"y":12.90},{"k":35.2,"y":16.07},{"k":37.6,"y":18.60},{"k":40,"y":18.81},{"k":41.9,"y":16.07},{"k":44.2,"y":11.20},{"k":46.6,"y":8.67},{"k":49,"y":6.13},{"k":51.4,"y":6.13},{"k":53.8,"y":6.13},{"k":56.1,"y":8.03},{"k":57.6,"y":8.67},{"k":59,"y":9.51},{"k":61.4,"y":9.51},{"k":63.8,"y":9.72},{"k":66.1,"y":8.03},{"k":69,"y":6.13},{"k":71.9,"y":4.44},{"k":74.2,"y":4.02},{"k":76.6,"y":2.96},{"k":79,"y":2.75},{"k":81.4,"y":2.75},{"k":83.8,"y":2.54},{"k":86.1,"y":2.33},{"k":88.5,"y":2.11},{"k":90.9,"y":2.11},{"k":93.3,"y":2.33},{"k":95.7,"y":4.02},{"k":98.1,"y":6.13},{"k":100.4,"y":6.55},{"k":102.8,"y":7.19},{"k":105.2,"y":6.13},{"k":107.6,"y":5.07},{"k":110,"y":4.23},{"k":112.3,"y":4.02},{"k":114.7,"y":3.81},{"k":117.1,"y":3.59},{"k":119,"y":3.59},{"k":120.9,"y":3.81},{"k":122.8,"y":6.98},{"k":124.7,"y":9.30},{"k":126.6,"y":10.15},{"k":128.5,"y":10.78},{"k":130.9,"y":11.42},{"k":132.3,"y":10.36},{"k":134.2,"y":7.61},{"k":137.1,"y":6.34},{"k":139.9,"y":5.07},{"k":142.3,"y":4.23},{"k":144.7,"y":3.17},{"k":147.1,"y":2.96},{"k":149.5,"y":2.75},{"k":151.9,"y":2.75},{"k":154.2,"y":4.23},{"k":156.6,"y":5.07},{"k":159,"y":5.07},{"k":161.4,"y":6.98},{"k":163.8,"y":8.46},{"k":166.1,"y":8.88},{"k":167.6,"y":9.09},{"k":170,"y":10.36},{"k":172.3,"y":9.09},{"k":173.8,"y":9.72}
],
"pgrid": [{"g":17.33},{"g":15.36},{"g":13.36},{"g":11.36},{"g":9.36}],
"vgrid": [{"g":10},{"g":20},{"g":30}],
"sig": [{"k":18},{"k":28},{"k":30},{"k":35},{"k":37},{"k":124},{"k":125},{"k":135},{"k":142},{"k":150},{"k":173}],
"tags": [{"k":125,"t":"榜"},{"k":135,"t":"财"},{"k":173,"t":"张"}],
"qtag": [{"k":41,"t":"q"}],
"peak": [{"k":31,"h":16.89,"t":"16.89"}]
},
"vconcat": [
{
"width": 1244, "height": 362,
"layer": [
{"data": {"name": "pgrid"}, "mark": {"type": "rule", "color": "#9A1E1E", "strokeDash": [1, 3], "strokeWidth": 1},
 "encoding": {"y": {"field": "g", "type": "quantitative", "scale": {"domain": [7.36, 17.36], "nice": false, "zero": false, "padding": 0}}}},
{"data": {"name": "bars"}, "mark": {"type": "rule", "strokeWidth": 1},
 "encoding": {
  "x": {"field": "k", "type": "quantitative", "scale": {"domain": [-1.0714, 176.643], "nice": false, "zero": false, "padding": 0}},
  "y": {"field": "l", "type": "quantitative", "scale": {"domain": [7.36, 17.36], "nice": false, "zero": false, "padding": 0}},
  "y2": {"field": "h"},
  "color": {"condition": {"test": "datum.c >= datum.o", "value": "#F24038"}, "value": "#54FCFC"}}},
{"data": {"name": "bars"}, "mark": {"type": "bar", "size": 4, "strokeWidth": 1},
 "encoding": {
  "x": {"field": "k", "type": "quantitative", "scale": {"domain": [-1.0714, 176.643], "nice": false, "zero": false, "padding": 0}},
  "y": {"field": "o", "type": "quantitative", "scale": {"domain": [7.36, 17.36], "nice": false, "zero": false, "padding": 0}},
  "y2": {"field": "c"},
  "fill": {"condition": {"test": "datum.c >= datum.o", "value": "#000000"}, "value": "#54FCFC"},
  "stroke": {"condition": {"test": "datum.c >= datum.o", "value": "#F24038"}, "value": "#54FCFC"}}},
{"data": {"name": "ma60"}, "mark": {"type": "line", "color": "#45BDE0", "strokeWidth": 1},
 "encoding": {"x": {"field": "k", "type": "quantitative", "scale": {"domain": [-1.0714, 176.643], "nice": false, "zero": false, "padding": 0}}, "y": {"field": "y", "type": "quantitative", "scale": {"domain": [7.36, 17.36], "nice": false, "zero": false, "padding": 0}}}},
{"data": {"name": "ma30"}, "mark": {"type": "line", "color": "#3CC83C", "strokeWidth": 1},
 "encoding": {"x": {"field": "k", "type": "quantitative", "scale": {"domain": [-1.0714, 176.643], "nice": false, "zero": false, "padding": 0}}, "y": {"field": "y", "type": "quantitative", "scale": {"domain": [7.36, 17.36], "nice": false, "zero": false, "padding": 0}}}},
{"data": {"name": "ma20"}, "mark": {"type": "line", "color": "#E87EE8", "strokeWidth": 1},
 "encoding": {"x": {"field": "k", "type": "quantitative", "scale": {"domain": [-1.0714, 176.643], "nice": false, "zero": false, "padding": 0}}, "y": {"field": "y", "type": "quantitative", "scale": {"domain": [7.36, 17.36], "nice": false, "zero": false, "padding": 0}}}},
{"data": {"name": "ma10"}, "mark": {"type": "line", "color": "#F5F56A", "strokeWidth": 1},
 "encoding": {"x": {"field": "k", "type": "quantitative", "scale": {"domain": [-1.0714, 176.643], "nice": false, "zero": false, "padding": 0}}, "y": {"field": "y", "type": "quantitative", "scale": {"domain": [7.36, 17.36], "nice": false, "zero": false, "padding": 0}}}},
{"data": {"name": "ma5"}, "mark": {"type": "line", "color": "#FFFFFF", "strokeWidth": 1},
 "encoding": {"x": {"field": "k", "type": "quantitative", "scale": {"domain": [-1.0714, 176.643], "nice": false, "zero": false, "padding": 0}}, "y": {"field": "y", "type": "quantitative", "scale": {"domain": [7.36, 17.36], "nice": false, "zero": false, "padding": 0}}}},
{"mark": {"type": "rule", "color": "#8C1414", "strokeWidth": 2},
 "encoding": {"y": {"datum": 7.39, "type": "quantitative", "scale": {"domain": [7.36, 17.36], "nice": false, "zero": false, "padding": 0}}}},
{"mark": {"type": "rule", "color": "#7A1010", "strokeWidth": 2},
 "encoding": {"x": {"datum": 176.36, "type": "quantitative", "scale": {"domain": [-1.0714, 176.643], "nice": false, "zero": false, "padding": 0}}}},
{"data": {"name": "sig"}, "mark": {"type": "point", "shape": "diamond", "filled": true, "color": "#3A9FD2", "size": 70, "opacity": 1},
 "encoding": {"x": {"field": "k", "type": "quantitative", "scale": {"domain": [-1.0714, 176.643], "nice": false, "zero": false, "padding": 0}}, "y": {"datum": 17.22, "type": "quantitative", "scale": {"domain": [7.36, 17.36], "nice": false, "zero": false, "padding": 0}}}},
{"data": {"name": "tags"}, "mark": {"type": "point", "shape": "square", "filled": true, "color": "#8E1616", "size": 160, "opacity": 1},
 "encoding": {"x": {"field": "k", "type": "quantitative", "scale": {"domain": [-1.0714, 176.643], "nice": false, "zero": false, "padding": 0}}, "y": {"datum": 7.57, "type": "quantitative", "scale": {"domain": [7.36, 17.36], "nice": false, "zero": false, "padding": 0}}}},
{"data": {"name": "tags"}, "mark": {"type": "text", "color": "#FFFFFF", "font": "Noto Sans CJK SC", "fontSize": 12, "align": "center", "baseline": "middle"},
 "encoding": {"x": {"field": "k", "type": "quantitative", "scale": {"domain": [-1.0714, 176.643], "nice": false, "zero": false, "padding": 0}}, "y": {"datum": 7.57, "type": "quantitative", "scale": {"domain": [7.36, 17.36], "nice": false, "zero": false, "padding": 0}}, "text": {"field": "t"}}},
{"data": {"name": "qtag"}, "mark": {"type": "text", "color": "#E83C3C", "font": "DejaVu Sans", "fontSize": 14, "fontWeight": "bold", "align": "center", "baseline": "middle"},
 "encoding": {"x": {"field": "k", "type": "quantitative", "scale": {"domain": [-1.0714, 176.643], "nice": false, "zero": false, "padding": 0}}, "y": {"datum": 7.62, "type": "quantitative", "scale": {"domain": [7.36, 17.36], "nice": false, "zero": false, "padding": 0}}, "text": {"field": "t"}}},
{"mark": {"type": "rule", "color": "#C8C8C8", "strokeWidth": 1},
 "encoding": {"x": {"datum": 31.25, "type": "quantitative", "scale": {"domain": [-1.0714, 176.643], "nice": false, "zero": false, "padding": 0}}, "x2": {"datum": 32.8}, "y": {"datum": 16.89, "type": "quantitative", "scale": {"domain": [7.36, 17.36], "nice": false, "zero": false, "padding": 0}}}},
{"mark": {"type": "point", "shape": "triangle-left", "filled": true, "color": "#C8C8C8", "size": 12, "opacity": 1},
 "encoding": {"x": {"datum": 31.4, "type": "quantitative", "scale": {"domain": [-1.0714, 176.643], "nice": false, "zero": false, "padding": 0}}, "y": {"datum": 16.89, "type": "quantitative", "scale": {"domain": [7.36, 17.36], "nice": false, "zero": false, "padding": 0}}}},
{"data": {"name": "peak"}, "mark": {"type": "text", "color": "#C8C8C8", "font": "Liberation Sans", "fontSize": 12, "align": "left", "baseline": "middle", "dx": 14},
 "encoding": {"x": {"field": "k", "type": "quantitative", "scale": {"domain": [-1.0714, 176.643], "nice": false, "zero": false, "padding": 0}}, "y": {"field": "h", "type": "quantitative", "scale": {"domain": [7.36, 17.36], "nice": false, "zero": false, "padding": 0}}, "text": {"field": "t"}}}
]
},
{
"width": 1244, "height": 168,
"layer": [
{"data": {"name": "vgrid"}, "mark": {"type": "rule", "color": "#9A1E1E", "strokeDash": [1, 3], "strokeWidth": 1},
 "encoding": {"y": {"field": "g", "type": "quantitative", "scale": {"domain": [-0.846, 34.67], "nice": false, "zero": false, "padding": 0}}}},
{"data": {"name": "bars"}, "mark": {"type": "bar", "size": 4, "strokeWidth": 1},
 "encoding": {
  "x": {"field": "k", "type": "quantitative", "scale": {"domain": [-1.0714, 176.643], "nice": false, "zero": false, "padding": 0}},
  "y": {"field": "v", "type": "quantitative", "scale": {"domain": [-0.846, 34.67], "nice": false, "zero": false, "padding": 0}},
  "y2": {"datum": 0},
  "fill": {"condition": {"test": "datum.c >= datum.o", "value": "#000000"}, "value": "#54FCFC"},
  "stroke": {"condition": {"test": "datum.c >= datum.o", "value": "#F24038"}, "value": "#54FCFC"}}},
{"data": {"name": "vma10"}, "mark": {"type": "line", "color": "#FFFFFF", "strokeWidth": 1},
 "encoding": {"x": {"field": "k", "type": "quantitative", "scale": {"domain": [-1.0714, 176.643], "nice": false, "zero": false, "padding": 0}}, "y": {"field": "y", "type": "quantitative", "scale": {"domain": [-0.846, 34.67], "nice": false, "zero": false, "padding": 0}}}},
{"data": {"name": "vma5"}, "mark": {"type": "line", "color": "#F5F56A", "strokeWidth": 1},
 "encoding": {"x": {"field": "k", "type": "quantitative", "scale": {"domain": [-1.0714, 176.643], "nice": false, "zero": false, "padding": 0}}, "y": {"field": "y", "type": "quantitative", "scale": {"domain": [-0.846, 34.67], "nice": false, "zero": false, "padding": 0}}}},
{"mark": {"type": "rule", "color": "#8C1414", "strokeWidth": 1},
 "encoding": {"y": {"datum": -0.25, "type": "quantitative", "scale": {"domain": [-0.846, 34.67], "nice": false, "zero": false, "padding": 0}}}},
{"mark": {"type": "rule", "color": "#7A1010", "strokeWidth": 2},
 "encoding": {"x": {"datum": 176.36, "type": "quantitative", "scale": {"domain": [-1.0714, 176.643], "nice": false, "zero": false, "padding": 0}}}}
]
}
]
}
